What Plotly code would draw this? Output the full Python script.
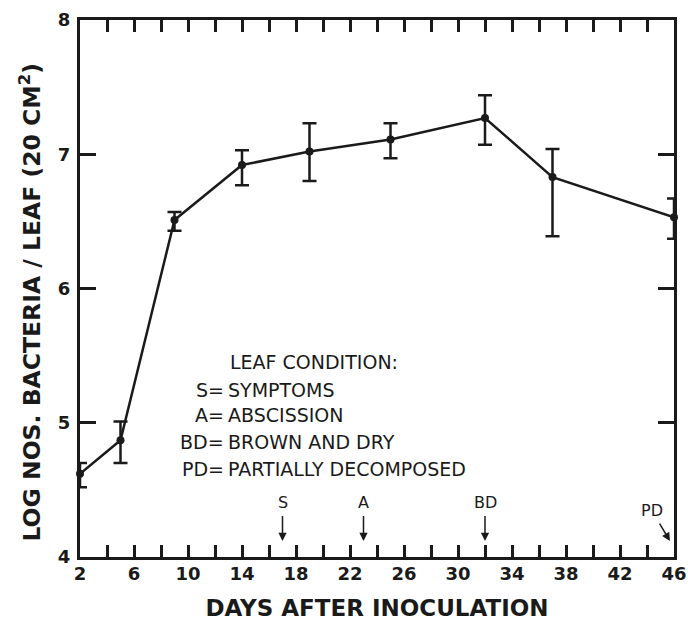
import plotly.graph_objects as go

# Data
days = [2, 5, 9, 14, 19, 25, 32, 37, 46]
log_counts = [4.62, 4.87, 6.51, 6.92, 7.02, 7.11, 7.27, 6.83, 6.53]
err_upper = [4.70, 5.01, 6.57, 7.03, 7.23, 7.23, 7.44, 7.04, 6.67]
err_lower = [4.52, 4.70, 6.43, 6.77, 6.80, 6.97, 7.07, 6.39, 6.37]

x_ticks = list(range(2, 47, 4))
y_ticks = [4, 5, 6, 7, 8]

legend_title = "LEAF CONDITION:"
legend_keys = ["S", "A", "BD", "PD"]
legend_vals = ["SYMPTOMS", "ABSCISSION", "BROWN AND DRY", "PARTIALLY DECOMPOSED"]

event_labels = ["S", "A", "BD", "PD"]
event_days = [17, 23, 32, 45.7]

FONT = "DejaVu Sans"
INK = "#1a1a1a"

fig = go.Figure()
fig.add_trace(go.Scatter(
    x=days, y=log_counts,
    mode="lines+markers",
    line=dict(color=INK, width=2.5),
    marker=dict(color=INK, size=8),
    error_y=dict(
        type="data", symmetric=False,
        array=[u - v for u, v in zip(err_upper, log_counts)],
        arrayminus=[v - l for v, l in zip(log_counts, err_lower)],
        color=INK, thickness=2.5, width=7,
    ),
    cliponaxis=False,
    showlegend=False,
))

TXT = dict(family=FONT, size=19, color=INK)
annotations = []
# y axis title as rotated annotation (positioned like the reference)
annotations.append(dict(
    x=-0.083, y=5.9, xref="paper", yref="y",
    text="LOG NOS. BACTERIA / LEAF (20 CM<sup>2</sup>)", textangle=-90,
    showarrow=False, xanchor="center", yanchor="middle",
    font=dict(family=FONT, size=23.5, color=INK, weight="bold"),
))
# legend text block
annotations.append(dict(
    x=12.96, y=5.45, xref="x", yref="y", text=legend_title, showarrow=False,
    xanchor="left", yanchor="middle", font=TXT,
))
line_y = [5.244, 5.058, 4.857, 4.655]
for k, v, yy in zip(legend_keys, legend_vals, line_y):
    annotations.append(dict(
        x=12.85, y=yy, xref="x", yref="y", text=k + "=", showarrow=False,
        xanchor="right", yanchor="middle", font=TXT,
    ))
    annotations.append(dict(
        x=12.8, y=yy, xref="x", yref="y", text=v, showarrow=False,
        xanchor="left", yanchor="middle", font=TXT,
    ))

# event arrows
for lab, d in zip(event_labels, event_days):
    if lab == "PD":
        ax, ay = -18, -30
    else:
        ax, ay = 0, -38
    annotations.append(dict(
        x=d, y=4.12, xref="x", yref="y", text=lab, showarrow=True,
        ax=ax, ay=ay, arrowhead=2, arrowsize=1.1, arrowwidth=1.5,
        arrowcolor=INK, standoff=0, startstandoff=2,
        font=dict(family=FONT, size=16, color=INK),
    ))

fig.update_layout(
    width=688, height=624,
    margin=dict(l=80, r=14, t=20, b=67, autoexpand=False),
    paper_bgcolor="white", plot_bgcolor="white",
    font=dict(family=FONT, color=INK),
    annotations=annotations,
    xaxis=dict(
        range=[2, 46], tickmode="array", tickvals=x_ticks,
        ticktext=[str(t) for t in x_ticks],
        ticks="inside", ticklen=12, tickwidth=3, tickcolor=INK,
        minor=dict(tickmode="linear", tick0=0, dtick=2, ticks="inside",
                   ticklen=12, tickwidth=3, tickcolor=INK),
        showline=True, linewidth=3, linecolor=INK, mirror="allticks",
        showgrid=False, zeroline=False, automargin=False,
        tickfont=dict(family=FONT, size=18, color=INK, weight="bold"),
        ticklabelstandoff=-2,
        title=dict(text="DAYS AFTER INOCULATION", standoff=18,
                   font=dict(family=FONT, size=23, color=INK, weight="bold")),
    ),
    yaxis=dict(
        range=[4, 8], tickmode="array", tickvals=y_ticks,
        ticktext=[str(t) for t in y_ticks],
        ticks="inside", ticklen=16, tickwidth=3, tickcolor=INK,
        showline=True, linewidth=3, linecolor=INK, mirror="allticks",
        showgrid=False, zeroline=False, automargin=False,
        tickfont=dict(family=FONT, size=18, color=INK, weight="bold"),
        ticklabelstandoff=3,
    ),
)

fig.write_html("out.html", post_script="document.body.style.margin='0';",
               config={"displayModeBar": False})
